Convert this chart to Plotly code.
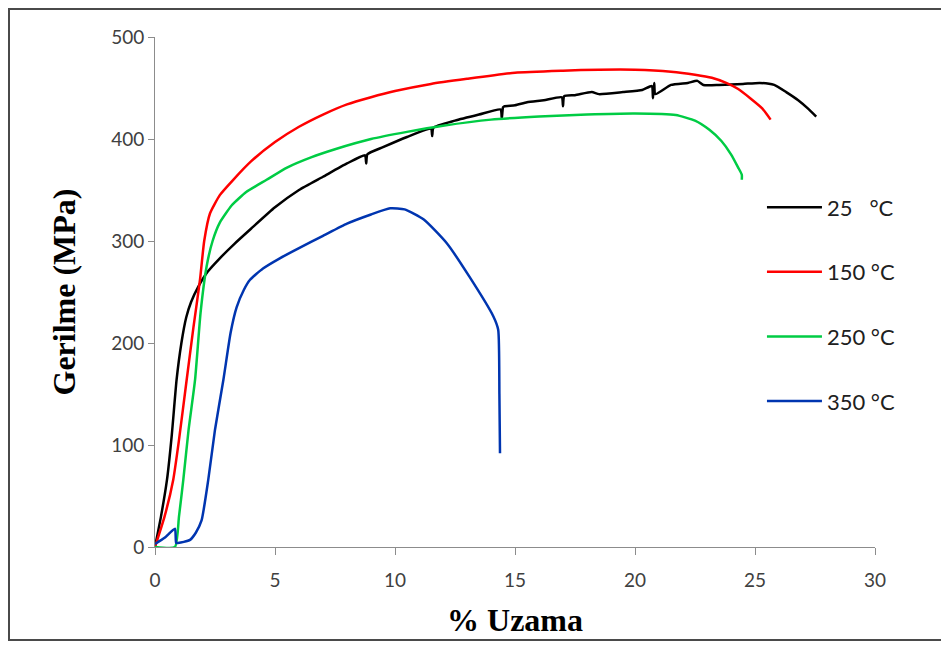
import plotly.graph_objects as go

# ---- data ----
x_tick_vals = [0, 5, 10, 15, 20, 25, 30]
y_tick_vals = [0, 100, 200, 300, 400, 500]

names = ["25   °C", "150 °C", "250 °C", "350 °C"]
colors = ["#000000", "#FF0000", "#00CC44", "#0035B0"]

x_25 = [0, 0.25, 0.5, 0.7, 0.9, 1.1, 1.3, 1.5, 1.8, 2.2, 2.7, 3.3, 4, 5, 6, 7, 8,
        8.75, 8.8, 8.85, 9.5, 10.5, 11.5, 11.55, 11.6, 12.5, 13.5, 14.4, 14.45,
        14.5, 14.55, 15, 15.5, 16.2, 16.95, 17.0, 17.05, 17.5, 18.2, 18.5, 19.5,
        20.3, 20.7, 20.75, 20.8, 20.85, 21.5, 22.2, 22.6, 22.85, 23.5, 24.5, 25.2,
        25.8, 26.3, 26.8, 27.2, 27.55]
y_25 = [0, 30, 66, 110, 164, 200, 225, 240, 255, 270, 283, 297, 312, 333, 350, 363, 376,
        384, 376, 385, 392, 402, 410, 403, 411, 418, 424, 429, 420,
        431, 432, 433, 436, 438, 441, 432, 442, 443, 446, 444, 446,
        448, 452, 440, 455, 444, 453, 455, 457, 453, 453, 454, 455,
        453, 446, 438, 430, 422]

x_150 = [0, 0.4, 0.76, 1.0, 1.32, 1.6, 1.875, 2.05, 2.29, 2.7, 3.26, 4, 5, 6, 7, 8, 9,
         10, 11.5, 13, 15, 17, 18.5, 20, 21.5, 22.5, 23.2, 23.8, 24.3, 24.8, 25.3, 25.65]
y_150 = [0, 30, 66, 105, 164, 215, 262, 300, 327, 345, 360, 378, 397, 412, 424, 434, 441,
         447, 454, 459, 465, 467, 468, 468, 466, 463, 460, 455, 449, 440, 430, 419]

x_250 = [0, 0.83, 1.0, 1.18, 1.4, 1.67, 1.9, 2.15, 2.4, 2.7, 3.2, 3.8, 4.65, 5.5, 6.5,
         7.5, 9, 10.5, 12, 14, 16, 18, 20, 21.7, 22.5, 23.1, 23.6, 24.0, 24.3, 24.45, 24.45]
y_250 = [0, 0, 30, 66, 115, 164, 230, 275, 300, 318, 335, 348, 360, 372, 382,
         390, 400, 407, 413, 419, 422, 424, 425, 423.5, 418, 409, 398, 385, 372, 365, 360]

x_350 = [0, 0.4, 0.83, 0.88, 0.95, 1.2, 1.46, 1.7, 1.94, 2.22, 2.5, 2.85, 3.15, 3.4, 3.7,
         3.96, 4.5, 5.2, 6, 7, 8, 9, 9.8, 10.4, 11.2, 12.15, 13.1, 14.1, 14.3, 14.35, 14.375]
y_350 = [3, 9, 18, 4, 4, 5, 7, 14, 26, 66, 115, 164, 210, 235, 252,
         262, 273, 283, 293, 305, 317, 326, 332, 331, 321, 298, 265, 226, 213, 150, 92]

series_x = [x_25, x_150, x_250, x_350]
series_y = [y_25, y_150, y_250, y_350]

# ---- figure ----
fig = go.Figure()
for i, (xs, ys) in enumerate(zip(series_x, series_y)):
    fig.add_trace(go.Scatter(
        x=xs, y=ys, mode="lines", name=names[i],
        line=dict(color=colors[i], width=2.5, shape="spline", smoothing=0.5),
        legendgroup=f"g{i}", cliponaxis=False,
    ))

tick_font = dict(family="Lato, Open Sans, sans-serif", size=19, color="#404040")
serif = "Liberation Serif, Times New Roman, serif"

# page body adds an 8px offset; plot area sits at screen x 155..875, y 37..547
fig.update_layout(
    width=941, height=638,
    margin=dict(l=147, r=74, t=29, b=99),
    paper_bgcolor="white", plot_bgcolor="white",
    showlegend=True,
    legend=dict(
        x=0.843, y=0.707, xanchor="left", yanchor="top",
        font=dict(family="Lato, Open Sans, sans-serif", size=22, color="#202020"),
        itemwidth=55, tracegroupgap=33, traceorder="grouped",
        bgcolor="rgba(0,0,0,0)",
    ),
    xaxis=dict(
        range=[0, 30], tickvals=x_tick_vals, showgrid=False, zeroline=False,
        showline=True, linecolor="#8C8C8C", linewidth=1,
        ticks="outside", ticklen=7, tickcolor="#8C8C8C",
        tickfont=tick_font, ticklabelstandoff=9,
        title=dict(text="<b>% Uzama</b>", font=dict(family=serif, size=32, color="#000"),
                   standoff=18),
    ),
    yaxis=dict(
        range=[0, 500], tickvals=y_tick_vals, showgrid=False, zeroline=False,
        showline=True, linecolor="#8C8C8C", linewidth=1,
        ticks="outside", ticklen=6, tickcolor="#8C8C8C",
        tickfont=tick_font,
        title=dict(text="<b>Gerilme (MPa)</b>", font=dict(family=serif, size=32, color="#000"),
                   standoff=25),
    ),
    shapes=[dict(
        type="rect", xref="paper", yref="paper",
        x0=(9 - 155) / 720, x1=(990 - 155) / 720,
        y0=(547 - 640) / 510, y1=(547 - 9) / 510,
        line=dict(color="#4A4A4A", width=2), fillcolor="rgba(0,0,0,0)", layer="below",
    )],
)

fig.write_html("out.html")
